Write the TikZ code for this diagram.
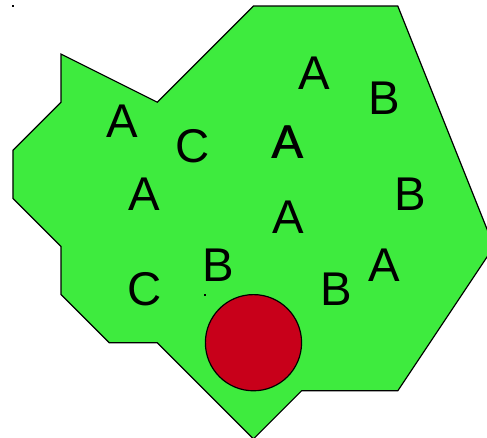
\documentclass[tikz,border=0pt]{standalone}
\usepackage{fontspec}
\setmainfont{Liberation Sans}
\usepackage{tikz}
\usetikzlibrary{positioning}
\definecolor{leafgreen}{RGB}{62,235,62}
\definecolor{berryred}{RGB}{200,0,26}

\begin{document}
\begin{tikzpicture}[
          x=1cm, y=-1cm,
          region/.style={draw=black, line width=0.7pt, fill=leafgreen, line join=miter},
          berry/.style={circle, draw=black, line width=0.7pt, fill=berryred, minimum size=2cm, inner sep=0pt},
          tag/.style={inner sep=0pt, font=\fontsize{28}{30}\selectfont},
          speck/.style={fill=black, minimum size=1.1pt, inner sep=0pt}
      ]
          \useasboundingbox (-0.27,-0.125) rectangle (9.855,8.98);
          % outline of the field
          \draw[region] (5,0) -- (8,0) -- (10,5) -- (8,8) -- (6,8) -- (5,9) -- (3,7) -- (2,7)
              -- (1,6) -- (1,5) -- (0,4) -- (0,3) -- (1,2) -- (1,1) -- (3,2) -- cycle;
          \node[berry] (Berry) at (5,7) {};
          % letters
          \node[tag] (A1) at (2.27,2.39) {A};
          \node[tag] (C1) at (3.74,2.91) {C};
          \node[tag] (A2) at (5.71,2.83) {A};
          \node[tag] (A2b) at (5.73,2.83) {A};
          \node[tag] (A3) at (6.26,1.40) {A};
          \node[tag] (B1) at (7.71,1.92) {B};
          \node[tag] (A4) at (2.72,3.91) {A};
          \node[tag] (A5) at (5.72,4.39) {A};
          \node[tag] (B2) at (8.25,3.91) {B};
          \node[tag] (C2) at (2.74,5.88) {C};
          \node[tag] (B3) at (4.27,5.39) {B};
          \node[tag] (B4) at (6.72,5.88) {B};
          \node[tag] (A6) at (7.71,5.39) {A};
          % specks
          \node[speck] (Origin) at (0,0) {};
          \node[speck] (Mark) at (4,6) {};
      \end{tikzpicture}
\end{document}
